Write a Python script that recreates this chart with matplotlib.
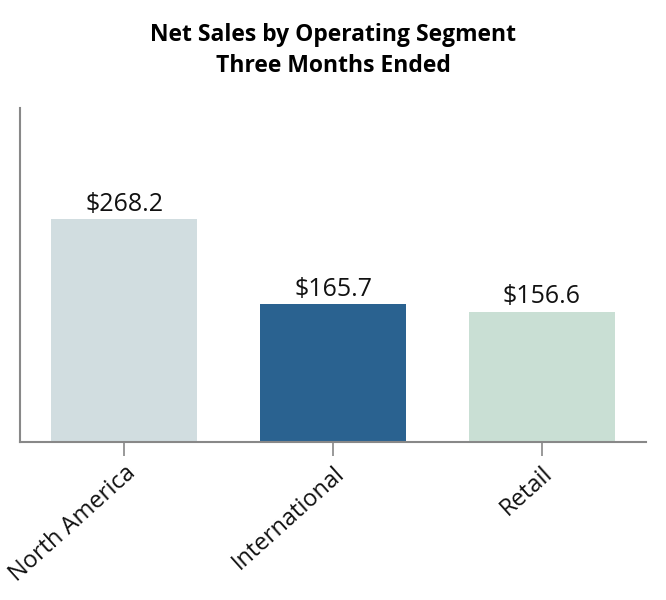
import matplotlib.pyplot as plt

segments = ['North America', 'International', 'Retail']
net_sales = [268.2, 165.7, 156.6]
labels = ['$268.2', '$165.7', '$156.6']
colors = ['#d1dde0', '#2a6290', '#c9dfd4']

plt.rcParams['font.family'] = ['Open Sans', 'DejaVu Sans']

fig = plt.figure(figsize=(6.66, 6), dpi=100)
ax = fig.add_axes([0.030, 0.2633, 0.94, 0.5567])

bars = ax.bar(range(len(segments)), net_sales, width=0.7, color=colors)
for b, lab in zip(bars, labels):
    ax.text(b.get_x() + b.get_width() / 2, b.get_height() + 3, lab,
            ha='center', va='bottom', fontsize=18, color='#111111')

ax.set_xlim(-0.5, 2.5)
ax.set_ylim(0, 402)
ax.set_xticks(range(len(segments)))
ax.set_xticklabels(segments, rotation=42, ha='right', rotation_mode='anchor',
                   fontsize=17, color='#111111')
ax.tick_params(axis='x', length=10, width=1.2, color='#888888', pad=4)
ax.set_yticks([])

for s in ['top', 'right']:
    ax.spines[s].set_visible(False)
for s in ['left', 'bottom']:
    ax.spines[s].set_color('#888888')
    ax.spines[s].set_linewidth(1.5)

fig.text(0.5, 0.916, 'Net Sales by Operating Segment\nThree Months Ended',
         ha='center', va='center', fontsize=16.5, fontweight='bold', linespacing=1.4)

fig.savefig('out.png', dpi=100)
